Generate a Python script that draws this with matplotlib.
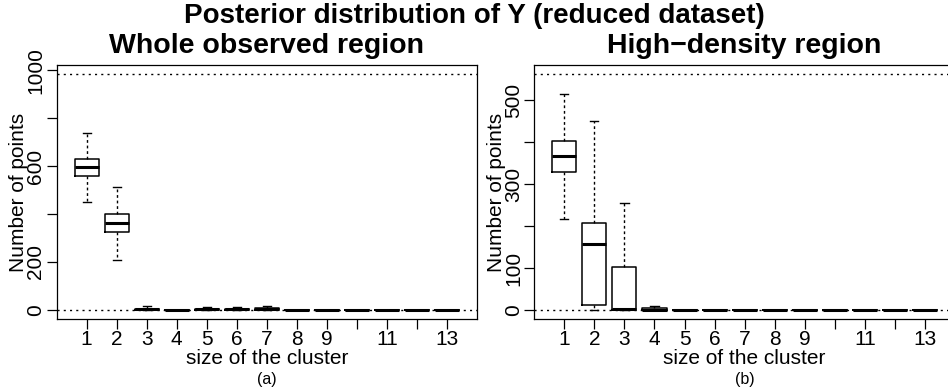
import matplotlib
matplotlib.use("Agg")
import matplotlib.pyplot as plt

plt.rcParams['font.family'] = ['Liberation Sans', 'DejaVu Sans']

# cluster sizes and tick labels (R drops 10 and 12 because of overlap)
clusters = list(range(1, 14))
xlabels = ['1', '2', '3', '4', '5', '6', '7', '8', '9', '', '11', '', '13']

# (a) whole observed region
a_whislo = [449, 208, 0, 0, 0, 0, 0, 0, 0, 0, 0, 0, 0]
a_q1 = [557, 324, 0, 0, 0, 0, 0, 0, 0, 0, 0, 0, 0]
a_med = [596, 364, 2, 0, 2, 2, 3, 0, 0, 0, 0, 0, 0]
a_q3 = [629, 400, 6, 0, 5, 6, 7, 0, 0, 0, 0, 0, 0]
a_whishi = [736, 514, 16, 0, 12, 13, 16, 0, 0, 0, 0, 0, 0]
a_total = 982
a_yticks = [0, 200, 400, 600, 800, 1000]
a_ylabels = ['0', '200', '', '600', '', '1000']

# (b) high-density region
b_whislo = [218, 0, 0, 0, 0, 0, 0, 0, 0, 0, 0, 0, 0]
b_q1 = [329, 12, 0, 0, 0, 0, 0, 0, 0, 0, 0, 0, 0]
b_med = [367, 157, 2, 1, 0, 0, 0, 0, 0, 0, 0, 0, 0]
b_q3 = [404, 208, 102, 5, 0, 0, 0, 0, 0, 0, 0, 0, 0]
b_whishi = [515, 451, 255, 9, 0, 0, 0, 0, 0, 0, 0, 0, 0]
b_total = 562
b_yticks = [0, 100, 200, 300, 400, 500]
b_ylabels = ['0', '100', '', '300', '', '500']

fig = plt.figure(figsize=(9.48, 3.89), dpi=100)


def panel(rect, whislo, q1, med, q3, whishi, total, yticks, ylabels, title, tag):
    ax = fig.add_axes(rect)
    stats = []
    for i in range(len(clusters)):
        stats.append(dict(whislo=whislo[i], q1=q1[i], med=med[i], q3=q3[i],
                          whishi=whishi[i], fliers=[]))
    ax.bxp(stats, positions=clusters, widths=0.8, capwidths=0.27,
           showfliers=False,
           boxprops=dict(color='black', linewidth=1.1),
           whiskerprops=dict(color='black', linewidth=1.0, linestyle=(0, (2, 2))),
           capprops=dict(color='black', linewidth=1.0),
           medianprops=dict(color='black', linewidth=2.2))
    # dotted reference lines at 0 and at the total number of points
    ax.axhline(0, color='black', linewidth=1.0, linestyle=(0, (1.5, 3)))
    ax.axhline(total, color='black', linewidth=1.0, linestyle=(0, (1.5, 3)))
    pad = total * 0.04
    ax.set_ylim(-pad, total + pad)
    ax.set_xlim(0, 14)
    ax.set_xticks(clusters)
    ax.set_xticklabels(xlabels, fontsize=15)
    ax.set_yticks(yticks)
    ax.set_yticklabels(ylabels, fontsize=15, rotation=90, va='center')
    ax.tick_params(length=7.2, width=0.9, pad=0.8)
    for s in ax.spines.values():
        s.set_linewidth(0.9)
    ax.set_xlabel('size of the cluster', fontsize=15, labelpad=0)
    ax.set_ylabel('Number of points', fontsize=15, labelpad=-1)
    ax.set_title(title, fontsize=20.5, fontweight='bold', pad=8.6)
    ax.text(0.5, -0.235, tag, transform=ax.transAxes, ha='center', va='center', fontsize=11.5)
    return ax


panel([0.0597, 0.179, 0.4438, 0.6537], a_whislo, a_q1, a_med, a_q3, a_whishi,
      a_total, a_yticks, a_ylabels, 'Whole observed region', '(a)')
panel([0.5636, 0.179, 0.4438, 0.6537], b_whislo, b_q1, b_med, b_q3, b_whishi,
      b_total, b_yticks, b_ylabels, 'High\u2212density region', '(b)')

fig.text(0.5, 0.941, 'Posterior distribution of Y (reduced dataset)',
         ha='center', va='baseline', fontsize=20, fontweight='bold')

fig.savefig('out.png', dpi=100)
